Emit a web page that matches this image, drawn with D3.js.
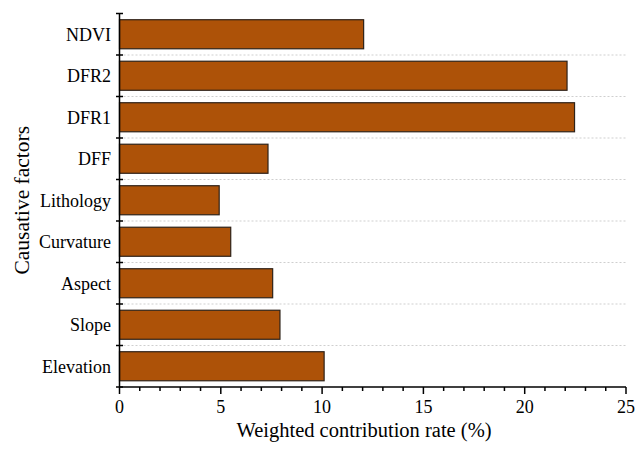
<!DOCTYPE html>
<html><head><meta charset="utf-8">
<script src="https://cdn.jsdelivr.net/npm/d3@7"></script>
<style>body{margin:0;background:#fff}svg{display:block}</style>
</head><body>
<script>
const categories = ["NDVI","DFR2","DFR1","DFF","Lithology","Curvature","Aspect","Slope","Elevation"];
const values = [12.05, 22.09, 22.46, 7.33, 4.92, 5.49, 7.56, 7.92, 10.1];
const xTicks = [0,5,10,15,20,25];
const xTitle = "Weighted contribution rate (%)";
const yTitle = "Causative factors";

const W=644,H=453;
const m={left:119.5,right:18,top:13.5,bottom:66};
const svg=d3.select("body").append("svg").attr("width",W).attr("height",H);
const font="'Liberation Serif','Times New Roman',serif";
const x=d3.scaleLinear().domain([0,25]).range([m.left,W-m.right]);
const y=d3.scaleBand().domain(categories).range([m.top,H-m.bottom]).paddingInner(0.3).paddingOuter(0.15);
const yb=d3.scaleLinear().domain([0,categories.length]).range([m.top,H-m.bottom]);

// gridlines at band boundaries
const bounds=d3.range(1,categories.length);
svg.append("g").selectAll("line").data(bounds).join("line")
 .attr("x1",m.left).attr("x2",x(25)).attr("y1",d=>yb(d)).attr("y2",d=>yb(d))
 .attr("stroke","#cfcfcf").attr("stroke-width",1).attr("stroke-dasharray","2,2");

// bars
svg.append("g").selectAll("rect").data(categories).join("rect")
 .attr("x",x(0)).attr("y",d=>y(d)).attr("height",y.bandwidth())
 .attr("width",(d,i)=>x(values[i])-x(0))
 .attr("fill","#AD5208").attr("stroke","#2e2218").attr("stroke-width",1.2);

// x axis
const xAxis=svg.append("g").attr("transform",`translate(0,${H-m.bottom})`);
xAxis.append("line").attr("x1",x(0)).attr("x2",x(25)).attr("stroke","#000").attr("stroke-width",1.5);
xAxis.selectAll("line.minor").data(d3.range(0,26)).join("line").attr("class","minor")
 .attr("x1",d=>x(d)).attr("x2",d=>x(d)).attr("y1",0).attr("y2",d=>d%5===0?7:4)
 .attr("stroke","#000").attr("stroke-width",1.5);
xAxis.selectAll("text").data(xTicks).join("text")
 .attr("x",d=>x(d)).attr("y",26).attr("text-anchor","middle")
 .attr("font-family",font).attr("font-size",18).text(d=>d);

// y axis
const yAxis=svg.append("g");
yAxis.append("line").attr("x1",m.left).attr("x2",m.left).attr("y1",m.top).attr("y2",H-m.bottom)
 .attr("stroke","#000").attr("stroke-width",1.5);
yAxis.selectAll("line.t").data(d3.range(0,categories.length+1)).join("line").attr("class","t")
 .attr("x1",m.left-3.5).attr("x2",m.left+3.5).attr("y1",d=>yb(d)).attr("y2",d=>yb(d))
 .attr("stroke","#000").attr("stroke-width",1.5);
yAxis.selectAll("text").data(categories).join("text")
 .attr("x",m.left-8.5).attr("y",d=>y(d)+y.bandwidth()/2).attr("dy","0.35em")
 .attr("text-anchor","end").attr("font-family",font).attr("font-size",18).text(d=>d);

svg.append("text").attr("x",364).attr("y",437).attr("text-anchor","middle")
 .attr("font-family",font).attr("font-size",20.5).text(xTitle);
svg.append("text").attr("transform",`translate(29,${(m.top+H-m.bottom)/2}) rotate(-90)`)
 .attr("text-anchor","middle").attr("font-family",font).attr("font-size",21.5).text(yTitle);
</script>
</body></html>
